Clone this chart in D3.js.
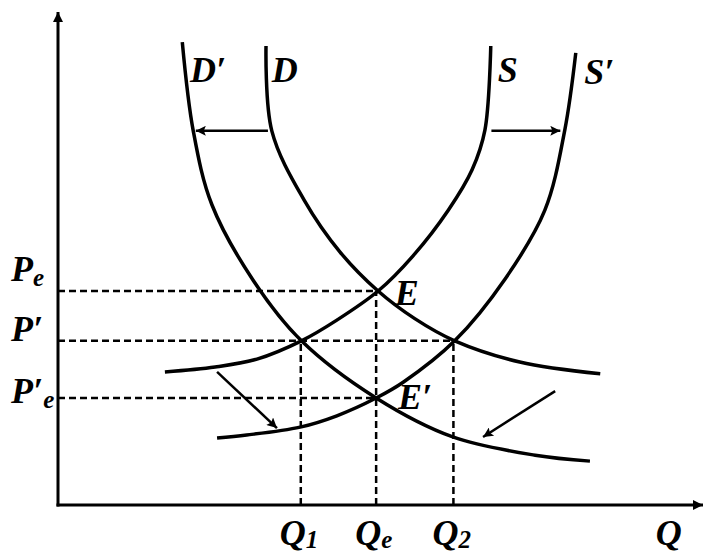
<!DOCTYPE html>
<head>
    <meta charset="utf-8">
    <script src="https://d3js.org/d3.v7.min.js"></script>
    <style>
        body {
            margin: 0;
            background: white;
        }

        text {
            font-family: "Liberation Serif", "Times New Roman", serif;
            font-weight: bold;
            font-style: italic;
            font-size: 36px;
            fill: black;
        }

        .axis-line {
            stroke: black;
            stroke-width: 3px;
        }

        .guide-line {
            stroke: black;
            stroke-width: 2.5px;
            stroke-dasharray: 7,4;
        }

        .curve {
            fill: none;
            stroke: black;
            stroke-width: 3.5px;
        }

        .shift-arrow {
            stroke: black;
            stroke-width: 2.5px;
        }
    </style>
</head>

<body>
<script>
    // curve points, as (Q, P) in units of 0..100
    var demand = [[32.3, 93.1], [33.2, 75.9], [38.2, 61.9], [43.8, 51.3], [49.7, 43.4],
        [55.4, 37.8], [61.6, 33.3], [71.7, 29.0], [84.2, 26.6]];
    var demandNew = [[19.3, 93.9], [21.0, 75.9], [23.9, 60.9], [30.3, 45.6], [37.8, 33.3],
        [49.4, 21.7], [61.3, 13.8], [74.1, 10.1], [82.6, 8.9]];
    var supply = [[16.6, 27.0], [24.4, 28.0], [30.9, 29.6], [37.8, 33.3], [43.3, 37.5],
        [49.7, 43.4], [55.1, 50.5], [60.6, 59.8], [64.3, 68.0], [66.3, 76.1], [67.2, 93.1]];
    var supplyNew = [[24.7, 13.6], [29.3, 14.2], [37.6, 15.8], [43.3, 18.1], [49.4, 21.7],
        [53.6, 24.9], [61.6, 33.3], [69.4, 45.8], [75.6, 59.8], [78.7, 76.1], [80.4, 91.7]];

    // equilibrium guides: quantity ticks and price ticks
    var qTicks = [
        {sub: "1", q: 37.7, p: 33.3},
        {sub: "e", q: 49.4, p: 43.4},
        {sub: "2", q: 61.4, p: 33.3}
    ];
    var pTicks = [
        {prime: "", sub: "e", p: 43.4, q: 49.4},
        {prime: "′", sub: "", p: 33.3, q: 61.4},
        {prime: "′", sub: "e", p: 21.7, q: 49.4}
    ];

    // shift arrows [from, to]
    var shifts = [
        [[32.6, 75.9], [21.4, 75.9]],
        [[67.3, 75.9], [78.0, 75.9]],
        [[24.7, 27.0], [34.0, 15.6]],
        [[77.2, 23.1], [66.0, 13.8]]
    ];

    var curveLabels = [
        {text: "D′", q: 20.5, p: 85.8},
        {text: "D", q: 33.2, p: 85.8},
        {text: "S", q: 68.3, p: 85.8},
        {text: "S′", q: 81.7, p: 85.4},
        {text: "E", q: 52.3, p: 40.6},
        {text: "E′", q: 52.8, p: 19.5}
    ];

    var width = 704,
        height = 553;

    var svg = d3.select("body").append("svg")
        .attr("width", width)
        .attr("height", height);

    var x = d3.scaleLinear().domain([0, 100]).range([58, 702]);
    var y = d3.scaleLinear().domain([0, 100]).range([505, 12]);

    var defs = svg.append("defs");

    defs.append("marker")
        .attr("id", "axis-head")
        .attr("viewBox", "0 0 10 10")
        .attr("refX", 10).attr("refY", 5)
        .attr("markerUnits", "userSpaceOnUse")
        .attr("markerWidth", 12).attr("markerHeight", 10)
        .attr("orient", "auto")
        .append("path")
        .attr("d", "M0,0L10,5L0,10Z");

    defs.append("marker")
        .attr("id", "shift-head")
        .attr("viewBox", "0 0 10 10")
        .attr("refX", 10).attr("refY", 5)
        .attr("markerUnits", "userSpaceOnUse")
        .attr("markerWidth", 13).attr("markerHeight", 10)
        .attr("orient", "auto")
        .append("path")
        .attr("d", "M0,0L10,5L0,10L2,5Z");

    // dashed guides
    var guides = svg.append("g").attr("class", "guides");

    guides.selectAll(".q-guide")
        .data(qTicks)
        .enter().append("line")
        .attr("class", "guide-line q-guide")
        .attr("x1", function(d) { return x(d.q); })
        .attr("x2", function(d) { return x(d.q); })
        .attr("y1", y(0))
        .attr("y2", function(d) { return y(d.p); });

    guides.selectAll(".p-guide")
        .data(pTicks)
        .enter().append("line")
        .attr("class", "guide-line p-guide")
        .attr("x1", x(0))
        .attr("x2", function(d) { return x(d.q); })
        .attr("y1", function(d) { return y(d.p); })
        .attr("y2", function(d) { return y(d.p); });

    // axes
    svg.append("line")
        .attr("class", "axis-line")
        .attr("x1", x(0)).attr("y1", y(0) + 1.5)
        .attr("x2", x(0)).attr("y2", y(100))
        .attr("marker-end", "url(#axis-head)");

    svg.append("line")
        .attr("class", "axis-line")
        .attr("x1", x(0) - 1.5).attr("y1", y(0))
        .attr("x2", x(100) + 1).attr("y2", y(0))
        .attr("marker-end", "url(#axis-head)");

    // curves
    var line = d3.line()
        .x(function(d) { return x(d[0]); })
        .y(function(d) { return y(d[1]); })
        .curve(d3.curveCatmullRom.alpha(0.5));

    svg.append("g").attr("class", "curves")
        .selectAll("path")
        .data([demand, demandNew, supply, supplyNew])
        .enter().append("path")
        .attr("class", "curve")
        .attr("d", line);

    // shift arrows
    svg.append("g").attr("class", "shifts")
        .selectAll("line")
        .data(shifts)
        .enter().append("line")
        .attr("class", "shift-arrow")
        .attr("x1", function(d) { return x(d[0][0]); })
        .attr("y1", function(d) { return y(d[0][1]); })
        .attr("x2", function(d) { return x(d[1][0]); })
        .attr("y2", function(d) { return y(d[1][1]); })
        .attr("marker-end", "url(#shift-head)");

    // labels
    svg.append("g").attr("class", "curve-labels")
        .selectAll("text")
        .data(curveLabels)
        .enter().append("text")
        .attr("x", function(d) { return x(d.q); })
        .attr("y", function(d) { return y(d.p); })
        .text(function(d) { return d.text; });

    var qLab = svg.append("g").attr("class", "q-labels")
        .selectAll("text")
        .data(qTicks)
        .enter().append("text")
        .attr("x", function(d) { return x(d.q) - 21; })
        .attr("y", 545);
    qLab.append("tspan").text("Q");
    qLab.append("tspan")
        .attr("dy", 3)
        .style("font-size", "25px")
        .text(function(d) { return d.sub; });

    svg.append("text")
        .attr("x", x(92.8))
        .attr("y", 545)
        .text("Q");

    var pLab = svg.append("g").attr("class", "p-labels")
        .selectAll("text")
        .data(pTicks)
        .enter().append("text")
        .attr("x", 11)
        .attr("y", function(d) { return y(d.p) + (d.prime && d.sub ? 5 : (d.prime ? 0 : -10)); });
    pLab.append("tspan").text(function(d) { return "P" + d.prime; });
    pLab.append("tspan")
        .attr("dy", 5)
        .style("font-size", "25px")
        .text(function(d) { return d.sub; });
</script>
</body>
</html>
